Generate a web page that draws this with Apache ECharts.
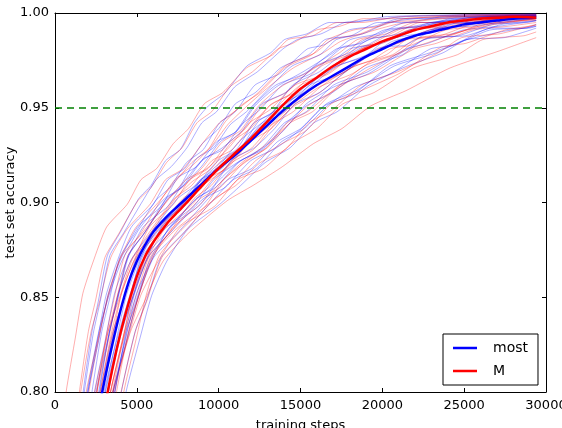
<!DOCTYPE html>
<html>
<head>
<meta charset="utf-8">
<script src="https://cdn.jsdelivr.net/npm/echarts@6/dist/echarts.min.js"></script>
<style>
  html, body { margin: 0; padding: 0; background: #fff; }
  #chart { width: 562px; height: 428px; }
</style>
</head>
<body>
<div id="chart"></div>
<script>
// individual runs, [training step, test set accuracy]
const blueRuns = [
  [[1080,0.75],[1720,0.80],[2240,0.831],[2650,0.848],[3200,0.872],[3970,0.884],[5110,0.902],[5870,0.909],[6750,0.922],[7660,0.928],[8510,0.942],[9370,0.951],[10410,0.958],[11720,0.972],[13180,0.979],[14030,0.986],[15390,0.989],[16750,0.995],[18110,0.995],[20150,0.998],[24000,0.999],[29400,0.9995]],
  [[1270,0.75],[2020,0.80],[2630,0.829],[3120,0.851],[3760,0.868],[4660,0.887],[6000,0.899],[6900,0.912],[7930,0.918],[9000,0.931],[10000,0.939],[11010,0.952],[12240,0.958],[13780,0.971],[15500,0.978],[16500,0.986],[18100,0.988],[19700,0.995],[21300,0.995],[23700,0.998],[29400,0.999]],
  [[1530,0.75],[2260,0.80],[2860,0.832],[3330,0.849],[3960,0.871],[4840,0.883],[6150,0.901],[7020,0.908],[8030,0.921],[9070,0.928],[10050,0.942],[11030,0.948],[12220,0.962],[13730,0.968],[15410,0.981],[16380,0.983],[17940,0.991],[19500,0.993],[21060,0.997],[23400,0.997],[29400,0.999]],
  [[1560,0.75],[2410,0.80],[3090,0.828],[3640,0.852],[4360,0.869],[5380,0.887],[6890,0.898],[7900,0.911],[9060,0.923],[10270,0.928],[11390,0.941],[12530,0.949],[13900,0.962],[15640,0.968],[17580,0.982],[18700,0.984],[20500,0.991],[22300,0.993],[24100,0.996],[26800,0.997],[29400,0.9985]],
  [[1870,0.75],[2670,0.80],[3310,0.831],[3830,0.849],[4510,0.872],[5470,0.884],[6900,0.902],[7850,0.909],[8950,0.919],[10090,0.932],[11150,0.938],[12220,0.951],[13520,0.961],[15160,0.969],[16990,0.979],[18050,0.986],[19750,0.989],[21450,0.995],[23150,0.995],[25700,0.998],[29400,0.9985]],
  [[1860,0.75],[2800,0.80],[3560,0.832],[4170,0.848],[4970,0.871],[6100,0.883],[7780,0.901],[8900,0.912],[10190,0.918],[11530,0.931],[12780,0.942],[14040,0.948],[15570,0.962],[17500,0.968],[19650,0.981],[20900,0.984],[22900,0.991],[24900,0.993],[26900,0.997],[29400,0.997]],
  [[2160,0.75],[3060,0.80],[3780,0.829],[4360,0.851],[5120,0.869],[6190,0.886],[7790,0.899],[8850,0.911],[10080,0.921],[11350,0.929],[12540,0.941],[13730,0.951],[15190,0.958],[17020,0.971],[19060,0.978],[20250,0.986],[22150,0.989],[24050,0.994],[25950,0.995],[28800,0.998],[29400,0.998]],
  [[2220,0.75],[3230,0.80],[4050,0.831],[4710,0.849],[5580,0.872],[6800,0.884],[8610,0.902],[9820,0.908],[11210,0.921],[12660,0.929],[14010,0.942],[15370,0.948],[17020,0.962],[19110,0.969],[21430,0.981],[22780,0.984],[24940,0.991],[27100,0.993],[29400,0.996]],
  [[2560,0.75],[3550,0.80],[4340,0.829],[4980,0.852],[5820,0.868],[7010,0.887],[8770,0.898],[9950,0.911],[11310,0.922],[12710,0.928],[14020,0.941],[15350,0.951],[16950,0.958],[18980,0.971],[21240,0.978],[22550,0.986],[24650,0.988],[26750,0.994],[28850,0.995],[29400,0.996]],
  [[3000,0.75],[4050,0.80],[4900,0.832],[5580,0.848],[6480,0.871],[7740,0.883],[9630,0.901],[10880,0.912],[12330,0.918],[13830,0.932],[15230,0.939],[16640,0.951],[18350,0.961],[20510,0.968],[22920,0.981],[24320,0.983],[26560,0.991],[28800,0.992],[29400,0.994]],
  [[3250,0.75],[4340,0.80],[5210,0.829],[5910,0.851],[6830,0.869],[8130,0.886],[10060,0.899],[11350,0.909],[12830,0.921],[14380,0.929],[15810,0.942],[17260,0.948],[19020,0.961],[21240,0.971],[23710,0.979],[25150,0.986],[27450,0.987],[29400,0.992]],
  [[1950,0.75],[3080,0.80],[3990,0.831],[4720,0.849],[5680,0.871],[7040,0.884],[9060,0.902],[10400,0.908],[11950,0.922],[13560,0.929],[15060,0.939],[16570,0.952],[18400,0.959],[20720,0.972],[23300,0.979],[24800,0.985],[27200,0.99],[29400,0.993]],
  [[1160,0.75],[2010,0.80],[2690,0.828],[3240,0.851],[3960,0.869],[5030,0.887],[6490,0.898],[7500,0.913],[8660,0.919],[9870,0.932],[10990,0.937],[12130,0.951],[13500,0.962],[15240,0.968],[17180,0.981],[18300,0.983],[20100,0.991],[21900,0.993],[23700,0.996],[26400,0.998],[29400,0.9986]],
  [[1970,0.75],[2720,0.80],[3330,0.832],[3820,0.849],[4460,0.872],[5400,0.883],[6700,0.901],[7600,0.908],[8630,0.923],[9700,0.929],[10700,0.941],[11710,0.948],[12940,0.959],[14480,0.972],[16200,0.978],[17200,0.986],[18800,0.989],[20400,0.995],[22000,0.997],[24400,0.998],[29400,0.999]],
  [[1560,0.75],[2500,0.80],[3260,0.829],[3870,0.852],[4670,0.87],[5850,0.884],[7480,0.902],[8600,0.909],[9890,0.918],[11230,0.932],[12480,0.941],[13740,0.948],[15270,0.961],[17200,0.972],[19350,0.978],[20600,0.985],[22600,0.989],[24600,0.995],[26600,0.996],[29400,0.998]],
  [[2400,0.75],[3270,0.80],[3970,0.831],[4530,0.848],[5260,0.871],[6350,0.887],[7850,0.899],[8880,0.912],[10070,0.919],[11300,0.928],[12450,0.943],[13610,0.949],[15020,0.958],[16790,0.971],[18770,0.982],[19920,0.984],[21760,0.99],[23600,0.995],[25440,0.995],[28200,0.998],[29400,0.998]],
  [[1060,0.75],[1960,0.80],[2680,0.832],[3260,0.85],[4020,0.868],[5140,0.886],[6690,0.902],[7750,0.908],[8980,0.922],[10250,0.929],[11440,0.938],[12630,0.952],[14090,0.958],[15920,0.972],[17960,0.979],[19150,0.986],[21050,0.989],[22950,0.995],[24850,0.996],[27700,0.998],[29400,0.998]],
  [[2450,0.75],[3540,0.80],[4410,0.828],[5110,0.851],[6030,0.871],[7390,0.883],[9260,0.901],[10550,0.912],[12030,0.918],[13580,0.932],[15010,0.939],[16460,0.951],[18220,0.957],[20440,0.972],[22910,0.979],[24350,0.983],[26650,0.992],[28950,0.992],[29400,0.993]],
  [[1110,0.75],[1790,0.80],[2340,0.831],[2770,0.848],[3350,0.872],[4200,0.884],[5370,0.901],[6180,0.912],[7110,0.919],[8070,0.929],[8970,0.942],[9880,0.948],[10980,0.961],[12370,0.969],[13920,0.981],[14820,0.986],[16260,0.989],[17700,0.995],[19140,0.996],[21300,0.998],[25620,0.999],[29400,0.9993]],
  [[2870,0.75],[3670,0.80],[4310,0.831],[4830,0.851],[5510,0.868],[6510,0.887],[7900,0.898],[8850,0.911],[9950,0.922],[11090,0.928],[12150,0.942],[13220,0.947],[14520,0.962],[16160,0.969],[17990,0.981],[19050,0.983],[20750,0.991],[22450,0.993],[24150,0.997],[26700,0.998],[29400,0.9985]],
  [[1960,0.75],[2990,0.80],[3830,0.829],[4500,0.849],[5380,0.872],[6680,0.886],[8470,0.898],[9700,0.912],[11120,0.921],[12590,0.928],[13970,0.938],[15350,0.952],[17040,0.961],[19160,0.968],[21530,0.981],[22900,0.987],[25100,0.988],[27300,0.994],[29400,0.996]],
  [[2720,0.75],[3640,0.80],[4390,0.832],[4990,0.849],[5770,0.869],[6930,0.886],[8520,0.901],[9620,0.908],[10880,0.923],[12200,0.929],[13420,0.939],[14660,0.952],[16160,0.958],[18050,0.971],[20160,0.982],[21380,0.983],[23340,0.992],[25300,0.993],[27260,0.995],[29400,0.9975]]
]

const redRuns = [
  [[0,0.752],[680,0.80],[1250,0.829],[1700,0.852],[2300,0.868],[3150,0.887],[4410,0.899],[5250,0.912],[6220,0.918],[7220,0.931],[8160,0.939],[9110,0.952],[10250,0.958],[11700,0.971],[13310,0.978],[14250,0.986],[15750,0.988],[17250,0.995],[18750,0.995],[21000,0.998],[25500,0.999],[29400,0.9993]],
  [[810,0.75],[1490,0.80],[2040,0.832],[2470,0.848],[3050,0.871],[3860,0.883],[5070,0.901],[5880,0.908],[6810,0.921],[7770,0.929],[8670,0.942],[9580,0.948],[10680,0.961],[12070,0.969],[13620,0.981],[14520,0.984],[15960,0.991],[17400,0.993],[18840,0.997],[21000,0.997],[25320,0.999],[29400,0.999]],
  [[1270,0.75],[2070,0.80],[2710,0.83],[3230,0.851],[3910,0.869],[4870,0.886],[6300,0.9],[7250,0.91],[8350,0.921],[9490,0.929],[10550,0.941],[11620,0.95],[12920,0.96],[14560,0.971],[16390,0.979],[17450,0.985],[19150,0.99],[20850,0.994],[22550,0.996],[25100,0.998],[29400,0.9988]],
  [[1730,0.75],[2550,0.80],[3220,0.831],[3760,0.849],[4460,0.872],[5460,0.884],[6930,0.902],[7920,0.909],[9060,0.919],[10230,0.932],[11330,0.938],[12440,0.951],[13790,0.961],[15490,0.969],[17380,0.979],[18480,0.986],[20240,0.989],[22000,0.995],[23760,0.995],[26400,0.998],[29400,0.9986]],
  [[2030,0.75],[2850,0.80],[3520,0.829],[4060,0.852],[4760,0.868],[5760,0.887],[7230,0.899],[8220,0.912],[9360,0.918],[10530,0.931],[11630,0.939],[12740,0.952],[14090,0.958],[15790,0.971],[17680,0.978],[18780,0.986],[20540,0.988],[22300,0.995],[24060,0.995],[26700,0.998],[29400,0.9985]],
  [[1760,0.75],[2750,0.80],[3540,0.832],[4180,0.848],[5020,0.871],[6210,0.883],[7970,0.901],[9150,0.912],[10510,0.918],[11910,0.932],[13220,0.939],[14550,0.951],[16150,0.961],[18180,0.968],[20440,0.981],[21750,0.983],[23850,0.991],[25950,0.993],[28050,0.997],[29400,0.997]],
  [[2460,0.75],[3400,0.80],[4160,0.829],[4770,0.851],[5570,0.869],[6700,0.886],[8380,0.899],[9500,0.911],[10790,0.921],[12130,0.928],[13380,0.941],[14640,0.951],[16170,0.958],[18100,0.971],[20250,0.978],[21500,0.986],[23500,0.988],[25500,0.994],[27500,0.995],[29400,0.997]],
  [[2360,0.75],[3390,0.80],[4230,0.831],[4900,0.849],[5780,0.872],[7020,0.884],[8870,0.902],[10100,0.908],[11520,0.921],[12990,0.929],[14370,0.942],[15750,0.948],[17440,0.962],[19560,0.969],[21930,0.981],[23300,0.984],[25500,0.991],[27700,0.993],[29400,0.995]],
  [[2660,0.75],[3650,0.80],[4440,0.83],[5080,0.85],[5920,0.87],[7110,0.886],[8870,0.899],[10050,0.91],[11410,0.921],[12810,0.93],[14120,0.94],[15450,0.951],[17050,0.959],[19080,0.97],[21340,0.98],[22650,0.984],[24750,0.99],[26850,0.994],[28950,0.996],[29400,0.996]],
  [[2240,0.75],[3560,0.80],[4620,0.832],[5480,0.848],[6600,0.869],[8180,0.884],[10530,0.901],[12100,0.909],[13910,0.919],[15780,0.931],[17530,0.939],[19300,0.951],[21440,0.959],[24140,0.971],[27150,0.98],[29400,0.987]],
  [[2350,0.75],[3530,0.80],[4480,0.829],[5240,0.851],[6240,0.868],[7650,0.887],[9750,0.898],[11150,0.912],[12760,0.918],[14440,0.931],[16000,0.939],[17580,0.952],[19490,0.958],[21900,0.971],[24590,0.978],[26150,0.986],[28650,0.988],[29400,0.99]],
  [[2860,0.75],[3760,0.80],[4480,0.831],[5060,0.849],[5820,0.871],[6890,0.883],[8490,0.902],[9550,0.909],[10780,0.922],[12050,0.929],[13240,0.941],[14430,0.951],[15890,0.961],[17720,0.969],[19760,0.981],[20950,0.984],[22850,0.991],[24750,0.993],[26650,0.997],[29400,0.998]],
  [[770,0.75],[1570,0.80],[2210,0.832],[2730,0.848],[3410,0.871],[4410,0.886],[5800,0.899],[6750,0.912],[7850,0.918],[8990,0.931],[10050,0.942],[11120,0.949],[12420,0.958],[14060,0.972],[15890,0.979],[16950,0.986],[18650,0.989],[20350,0.995],[22050,0.996],[24600,0.998],[29400,0.999]],
  [[1660,0.75],[2560,0.80],[3280,0.828],[3860,0.852],[4620,0.869],[5740,0.884],[7290,0.902],[8350,0.909],[9580,0.922],[10850,0.928],[12040,0.941],[13230,0.952],[14690,0.958],[16520,0.969],[18560,0.982],[19750,0.984],[21650,0.991],[23550,0.994],[25450,0.995],[28300,0.998],[29400,0.998]],
  [[1830,0.75],[2560,0.80],[3160,0.831],[3630,0.85],[4260,0.872],[5180,0.883],[6450,0.901],[7320,0.912],[8330,0.919],[9370,0.928],[10350,0.942],[11330,0.951],[12520,0.958],[14030,0.971],[15710,0.978],[16680,0.986],[18240,0.991],[19800,0.993],[21360,0.997],[23700,0.998],[28380,0.999],[29400,0.999]],
  [[2660,0.75],[3510,0.80],[4190,0.829],[4740,0.852],[5460,0.868],[6530,0.887],[7990,0.901],[9000,0.908],[10160,0.922],[11370,0.929],[12490,0.938],[13630,0.951],[15000,0.962],[16740,0.968],[18680,0.981],[19800,0.984],[21600,0.991],[23400,0.993],[25200,0.997],[27900,0.998],[29400,0.998]],
  [[1420,0.75],[2430,0.80],[3250,0.832],[3910,0.849],[4780,0.871],[6050,0.883],[7810,0.902],[9020,0.909],[10410,0.918],[11860,0.932],[13210,0.941],[14570,0.948],[16220,0.961],[18310,0.972],[20630,0.978],[21980,0.986],[24140,0.988],[26300,0.995],[28460,0.996],[29400,0.9968]],
  [[3260,0.75],[4200,0.80],[4960,0.828],[5570,0.851],[6370,0.872],[7550,0.884],[9180,0.898],[10300,0.912],[11590,0.921],[12930,0.929],[14180,0.942],[15440,0.948],[16970,0.959],[18900,0.972],[21050,0.979],[22300,0.987],[24300,0.989],[26300,0.994],[28300,0.996],[29400,0.997]],
  [[2250,0.75],[3380,0.80],[4290,0.831],[5020,0.848],[5980,0.872],[7400,0.886],[9360,0.899],[10700,0.908],[12250,0.922],[13860,0.931],[15360,0.938],[16870,0.952],[18700,0.959],[21020,0.968],[23600,0.982],[25100,0.984],[27500,0.991],[29400,0.9935]],
  [[1900,0.75],[2770,0.80],[3470,0.832],[4030,0.851],[4760,0.868],[5850,0.884],[7350,0.902],[8380,0.911],[9570,0.918],[10800,0.932],[11950,0.939],[13110,0.951],[14520,0.958],[16290,0.972],[18270,0.979],[19420,0.984],[21260,0.992],[23100,0.993],[24940,0.997],[27700,0.998],[29400,0.998]],
  [[960,0.75],[1900,0.80],[2660,0.829],[3270,0.851],[4070,0.872],[5250,0.883],[6880,0.901],[8000,0.912],[9290,0.918],[10630,0.929],[11880,0.942],[13140,0.949],[14670,0.962],[16600,0.968],[18750,0.981],[20000,0.984],[22000,0.991],[24000,0.993],[26000,0.996],[29000,0.998],[29400,0.998]],
  [[2950,0.75],[4040,0.80],[4910,0.832],[5610,0.848],[6530,0.871],[7890,0.884],[9760,0.902],[11050,0.909],[12530,0.921],[14080,0.928],[15510,0.942],[16960,0.949],[18720,0.962],[20940,0.969],[23410,0.979],[24850,0.987],[27150,0.989],[29400,0.994]]
]

// averaged curves (the thick ones in the legend)
const mostMean = [[2000,0.755],[2500,0.782],[3000,0.805],[3500,0.825],[4000,0.843],[4500,0.858],[5000,0.869],[5500,0.8775],[6000,0.8845],[6500,0.8895],[7000,0.894],[7500,0.898],[8000,0.902],[9000,0.910],[10000,0.918],[11000,0.925],[12000,0.933],[13000,0.941],[14000,0.949],[15000,0.956],[16000,0.962],[17000,0.967],[18000,0.972],[19000,0.977],[20000,0.981],[21000,0.985],[22000,0.988],[23000,0.990],[24000,0.992],[25000,0.994],[26000,0.995],[27000,0.996],[28000,0.997],[29400,0.9975]]
const mMean = [[2000,0.735],[2500,0.765],[3000,0.790],[3500,0.812],[4000,0.831],[4500,0.847],[5000,0.861],[5500,0.8715],[6000,0.879],[6500,0.885],[7000,0.8905],[7500,0.895],[8000,0.8995],[9000,0.909],[10000,0.918],[11000,0.926],[12000,0.934],[13000,0.943],[14000,0.952],[15000,0.960],[16000,0.966],[17000,0.972],[18000,0.977],[19000,0.981],[20000,0.985],[21000,0.988],[22000,0.991],[23000,0.993],[24000,0.995],[25000,0.996],[26000,0.997],[27000,0.9975],[28000,0.998],[29400,0.9975]]

const targetAcc = 0.95
const legendNames = ['most', 'M']

const font = 'DejaVu Sans'

const frameAxis = (extra) => Object.assign({
    type: 'value',
    axisLine: { show: true, onZero: false, lineStyle: { color: '#000', width: 1 } },
    axisTick: { show: true, inside: true, length: 4, lineStyle: { color: '#000' } },
    splitLine: { show: false },
}, extra)

const thin = (data, color) => ({
    type: 'line',
    data: data,
    symbol: 'none',
    silent: true,
    animation: false,
    smooth: 0.2,
    lineStyle: { width: 1, color: color },
    z: 2,
})

const series = []
const n = Math.max(blueRuns.length, redRuns.length)
for (let i = 0; i < n; i++) {
    if (blueRuns[i]) series.push(thin(blueRuns[i], 'rgba(0,0,255,0.32)'))
    if (redRuns[i]) series.push(thin(redRuns[i], 'rgba(255,0,0,0.32)'))
}

series.push({
    type: 'line',
    data: [],
    silent: true,
    z: 3,
    markLine: {
        symbol: 'none',
        silent: true,
        animation: false,
        label: { show: false },
        lineStyle: { color: '#008000', type: [7, 5], width: 1.5 },
        data: [{ yAxis: targetAcc }],
    },
})

const mean = (name, data, color) => ({
    name: name,
    type: 'line',
    data: data,
    symbol: 'none',
    animation: false,
    smooth: 0.3,
    lineStyle: { width: 2.5, color: color },
    itemStyle: { color: color },
    z: 4,
})
series.push(mean(legendNames[0], mostMean, '#0000ff'))
series.push(mean(legendNames[1], mMean, '#ff0000'))

const chart = echarts.init(document.getElementById('chart'), null, { renderer: 'canvas' })
chart.setOption({
    animation: false,
    backgroundColor: '#fff',
    grid: { left: 55, right: 16, top: 13, bottom: 36, containLabel: false, outerBoundsMode: 'none' },
    xAxis: [
        frameAxis({
            position: 'bottom', min: 0, max: 30000, interval: 5000,
            axisLabel: { color: '#000', fontSize: 13, fontFamily: font, margin: 7, formatter: (v) => String(v) },
            name: 'training steps', nameLocation: 'middle', nameGap: 27, nameMoveOverlap: false,
            nameTextStyle: { color: '#000', fontSize: 13, fontFamily: font },
        }),
        frameAxis({ position: 'top', min: 0, max: 30000, interval: 5000, axisLabel: { show: false } }),
    ],
    yAxis: [
        frameAxis({
            position: 'left', min: 0.8, max: 1.0, interval: 0.05,
            axisLabel: { color: '#000', fontSize: 13, fontFamily: font, margin: 6, formatter: (v) => v.toFixed(2) },
            name: 'test set accuracy', nameLocation: 'middle', nameGap: 38, nameMoveOverlap: false,
            nameTextStyle: { color: '#000', fontSize: 13, fontFamily: font },
        }),
        frameAxis({ position: 'right', min: 0.8, max: 1.0, interval: 0.05, axisLabel: { show: false } }),
    ],
    legend: {
        data: legendNames,
        orient: 'vertical',
        left: 443,
        top: 334,
        backgroundColor: '#fff',
        borderColor: '#000',
        borderWidth: 1,
        borderRadius: 0,
        padding: [6, 10, 6, 10],
        icon: 'rect',
        itemWidth: 24,
        itemHeight: 2.5,
        itemGap: 7,
        textStyle: { color: '#000', fontSize: 14, fontFamily: font, padding: [0, 0, 0, 11], lineHeight: 16 },
    },
    series: series,
})
</script>
</body>
</html>
